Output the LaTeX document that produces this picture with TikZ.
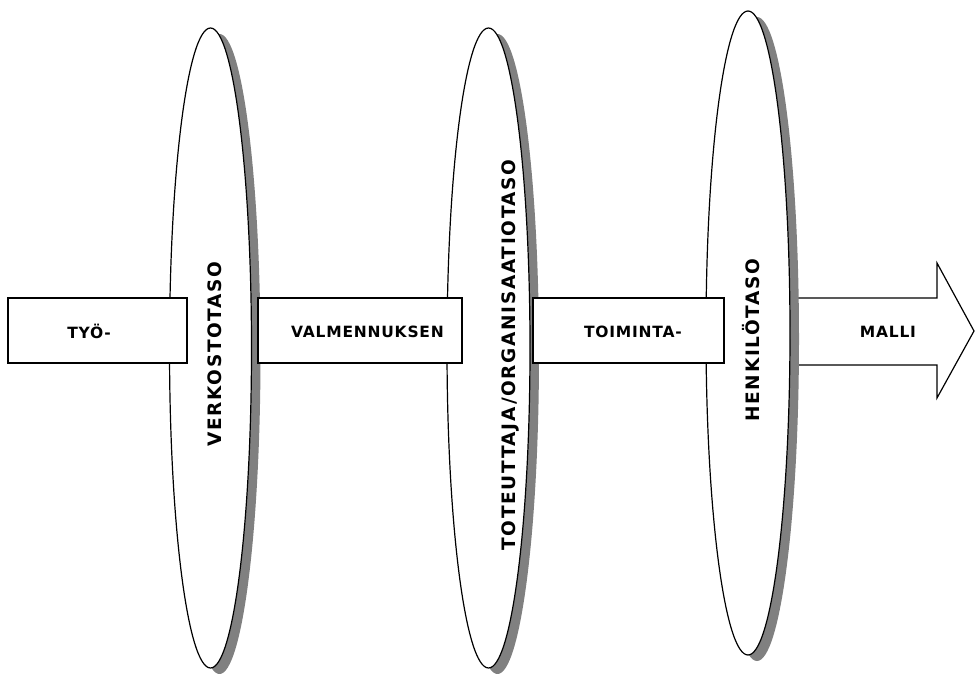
\documentclass[tikz,border=0pt]{standalone}
\usepackage{fontspec}
\newfontfamily\lblfont{DejaVu Sans}[LetterSpace=5]
\newfontfamily\vlblfont{DejaVu Sans}[LetterSpace=9]
\usetikzlibrary{shapes.geometric,shadows}
\tikzset{
  lens/.style={ellipse, draw=black, line width=1.2pt, fill=white, inner sep=0pt,
    drop shadow={shadow xshift=9pt, shadow yshift=-6pt, fill=black!50, opacity=1}},
  bar/.style={rectangle, draw=black, line width=1.2pt, fill=white, inner sep=0pt, minimum height=65pt},
  htext/.style={font=\lblfont\bfseries\fontsize{15.5}{17}\selectfont, inner sep=0pt},
  vtext/.style={font=\vlblfont\bfseries\fontsize{18.5}{20}\selectfont, inner sep=0pt, rotate=90},
}
\begin{document}
\begin{tikzpicture}[x=1pt,y=-1pt]
\useasboundingbox (0,0) rectangle (975,674);
% big arrow (partly behind the third ellipse)
\draw[line width=1.2pt, fill=white, line join=miter] (780,298) -- (937,298) -- (937,263) -- (974,331) -- (937,398) -- (937,365) -- (780,365) -- cycle;
% ellipses
\node[lens, minimum width=82pt, minimum height=640pt] (e1) at (210.5,348) {};
\node[lens, minimum width=83pt, minimum height=640pt] (e2) at (488.5,348) {};
\node[lens, minimum width=84pt, minimum height=644pt] (e3) at (748,333) {};
% boxes
\node[bar, minimum width=179pt] (b1) at (97.5,330.5) {};
\node[bar, minimum width=204pt] (b2) at (360,330.5) {};
\node[bar, minimum width=191pt] (b3) at (628.5,330.5) {};
% texts
\node[htext] (t1) at (89,331.5) {TYÖ-};
\node[htext] (t2) at (367.5,331.5) {VALMENNUKSEN};
\node[htext] (t3) at (633,331.5) {TOIMINTA-};
\node[htext] (t4) at (888,331.5) {MALLI};
\node[vtext] (v1) at (214.5,354) {VERKOSTOTASO};
\node[vtext] (v2) at (510,355) {TOTEUTTAJA\kern3pt/\kern1pt ORGANISAATIOTASO};
\node[vtext] (v3) at (751,340) {HENKILÖTASO};
\end{tikzpicture}
\end{document}
